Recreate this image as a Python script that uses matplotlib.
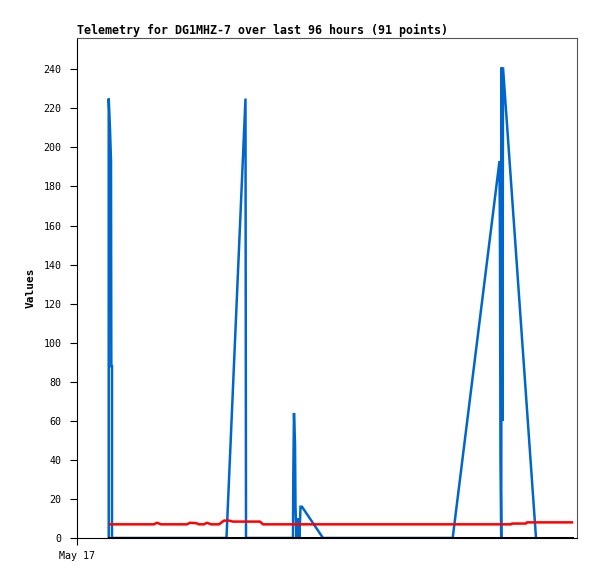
import matplotlib
matplotlib.use("Agg")
import matplotlib.pyplot as plt

# ---------------- Data (hours since May 17 00:00) ----------------
blue_hours = [6.09, 6.09, 6.34, 6.53, 6.59, 6.72, 6.72, 28.7, 32.35, 32.45,
              41.47, 41.53, 41.66, 41.86, 41.95, 42.14, 42.24, 42.43, 42.62, 42.72,
              42.91, 43.2, 47.23, 72.13, 81.12, 81.22, 81.31, 81.45, 81.54, 81.70,
              81.79, 88.13]
blue_values = [0, 225, 209, 193, 88, 88, 0, 0, 225, 0,
               0, 32, 64, 48, 16, 0, 10, 3, 10, 0,
               16, 16, 0, 0, 193, 145, 40, 0, 241, 60,
               241, 0]

red_hours = [6.34, 14.78, 15.36, 16.13, 21.12, 21.70, 22.85, 23.42, 24.38, 24.96,
             25.73, 27.26, 28.22, 29.18, 29.95, 35.14, 35.71, 83.33, 83.52, 86.21,
             86.40, 95.04]
red_values = [7.0, 7.0, 7.8, 7.0, 7.0, 7.8, 7.6, 7.0, 7.0, 7.8,
              7.0, 7.0, 8.9, 8.9, 8.4, 8.4, 7.0, 7.0, 7.4, 7.4,
              8.0, 8.0]

black_hours = [6.09, 95.04]
black_values = [0, 0]

y_ticks = list(range(0, 241, 20))
x_tick_labels = ["May 17"]

# ---------------- Plot ----------------
fig = plt.figure(figsize=(5.97, 5.79), dpi=100)
ax = fig.add_axes([77 / 597, 1 - 538 / 579, 500 / 597, 500 / 579])

ax.plot(blue_hours, blue_values, color="#0066cc", linewidth=1.8,
        solid_joinstyle="miter")
ax.plot(red_hours, red_values, color="#ff0000", linewidth=1.8)
ax.plot(black_hours, black_values, color="black", linewidth=2.2)

ax.set_xlim(0, 96)
ax.set_ylim(0, 256)
ax.set_yticks(y_ticks)
ax.set_xticks([0])
ax.set_xticklabels(x_tick_labels)

ax.tick_params(axis="both", length=5, width=0.8, direction="out",
               labelsize=7.2, colors="black")
ax.tick_params(axis="y", pad=6)
ax.tick_params(axis="x", pad=4.5)
for lab in ax.get_xticklabels() + ax.get_yticklabels():
    lab.set_family("DejaVu Sans Mono")

for side in ["top", "right"]:
    ax.spines[side].set_color("#555555")
    ax.spines[side].set_linewidth(0.8)
for side in ["left", "bottom"]:
    ax.spines[side].set_color("black")
    ax.spines[side].set_linewidth(0.8)

ax.set_title("Telemetry for DG1MHZ-7 over last 96 hours (91 points)",
             loc="left", fontsize=8.35, fontweight="bold",
             family="DejaVu Sans Mono", pad=3)
ax.set_ylabel("Values", fontsize=8, fontweight="bold", family="DejaVu Sans Mono")
ax.yaxis.set_label_coords(-0.082, 0.5)

fig.savefig("out.png", dpi=100)
